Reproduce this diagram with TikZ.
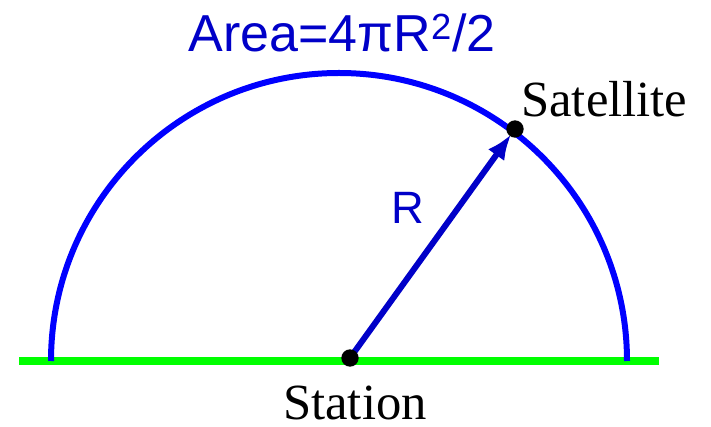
\documentclass[tikz,border=0pt]{standalone}
\usepackage{fontspec}
\setmainfont{Liberation Serif}
\newfontfamily\labelsans{Liberation Sans}
\usetikzlibrary{arrows.meta}
\definecolor{arcblue}{RGB}{0,0,255}
\definecolor{radiusblue}{RGB}{0,0,200}
\definecolor{groundgreen}{RGB}{0,255,0}

\begin{document}
\begin{tikzpicture}[x=0.75pt,y=0.75pt,yscale=-1,xscale=1,
    dot/.style={circle,fill=black,inner sep=0pt,minimum size=13pt},
    bigserif/.style={font=\fontsize{38}{42}\selectfont,inner sep=0pt}]
    \useasboundingbox (0,0) rectangle (711,427);
    % ground and hemisphere
    \draw [color=groundgreen,line width=5.6] (19,361) -- (659,361) ;
    \draw [color=arcblue,line width=4.5] (51,361) arc (180:360:288) ;
    \coordinate (station) at (350,358) ;
    \coordinate (satellite) at (515,129) ;
    \draw [color=radiusblue,line width=4.5,-{Latex[length=19pt,width=15pt]},shorten >=5pt] (station) -- (satellite) ;
    \node [dot] (stationdot) at (station) {} ;
    \node [dot] (satellitedot) at (satellite) {} ;
    % labels
    \node [bigserif,anchor=base west] (satlabel) at (521,117) {Satellite} ;
    \node [bigserif,anchor=base] (stationlabel) at (355,420) {Station} ;
    \node [anchor=base,inner sep=0pt,font=\labelsans\fontsize{34}{38}\selectfont,text=radiusblue] (rlabel) at (408,224) {R} ;
    \node [anchor=base,inner sep=0pt,font=\labelsans\fontsize{39}{44}\selectfont,text=radiusblue] (arealabel) at (342,52) {Area=4πR\textsuperscript{2}/2} ;
\end{tikzpicture}
\end{document}
